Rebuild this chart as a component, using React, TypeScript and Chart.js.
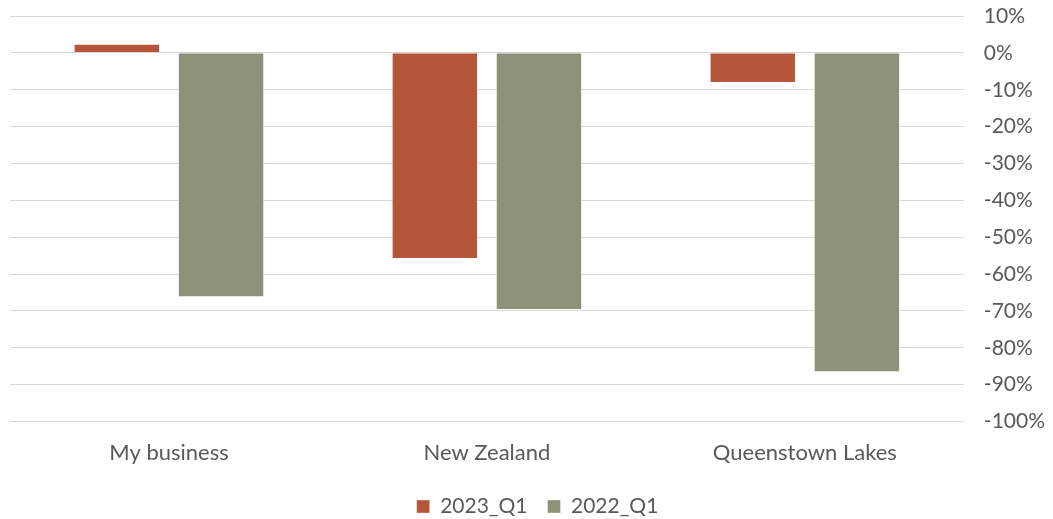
import React, { useEffect, useRef } from "react";
import { Chart, registerables } from "chart.js";

Chart.register(...registerables);

const categories = ["My business", "New Zealand", "Queenstown Lakes"];
const series2023 = [0.025, -0.559, -0.082];
const series2022 = [-0.663, -0.697, -0.866];
const seriesNames = ["2023_Q1", "2022_Q1"];

export default function App() {
  const ref = useRef<HTMLCanvasElement>(null);
  useEffect(() => {
    document.body.style.margin = "0";
    const ctx = ref.current!;
    const chart = new Chart(ctx, {
      type: "bar",
      data: {
        labels: categories,
        datasets: [
          {
            label: seriesNames[0],
            data: series2023,
            backgroundColor: "#B5553A",
            borderColor: "rgba(255,255,255,0.35)",
            borderWidth: 1,
            barPercentage: 0.83,
            categoryPercentage: 0.655,
          },
          {
            label: seriesNames[1],
            data: series2022,
            backgroundColor: "#8C9178",
            borderColor: "rgba(255,255,255,0.35)",
            borderWidth: 1,
            barPercentage: 0.83,
            categoryPercentage: 0.655,
          },
        ],
      },
      options: {
        animation: false,
        responsive: false,
        maintainAspectRatio: false,
        layout: { padding: { left: 10, right: -12, top: 16, bottom: -8 } },
        plugins: {
          legend: {
            position: "bottom",
            labels: {
              boxWidth: 13,
              boxHeight: 13,
              color: "#595959",
              font: { family: "Lato", size: 21 },
              padding: 20,
            },
          },
          tooltip: { enabled: false },
        },
        scales: {
          x: {
            grid: { display: false },
            border: { display: false },
            ticks: {
              color: "#595959",
              font: { family: "Lato", size: 22 },
              padding: 10,
            },
          },
          y: {
            position: "right",
            min: -1,
            max: 0.1,
            border: { display: false },
            grid: { color: "#D9D9D9", drawTicks: false, lineWidth: 1 },
            afterFit: (scale: any) => {
              scale.paddingTop = 0;
              scale.paddingBottom = 0;
            },
            ticks: {
              stepSize: 0.1,
              color: "#595959",
              font: { family: "Lato", size: 21 },
              padding: 20,
              callback: (v: any) => Math.round(Number(v) * 100) + "%",
            },
          },
        },
      },
    });
    return () => chart.destroy();
  }, []);
  return <canvas ref={ref} width={1053} height={519} style={{ display: "block" }} />;
}
